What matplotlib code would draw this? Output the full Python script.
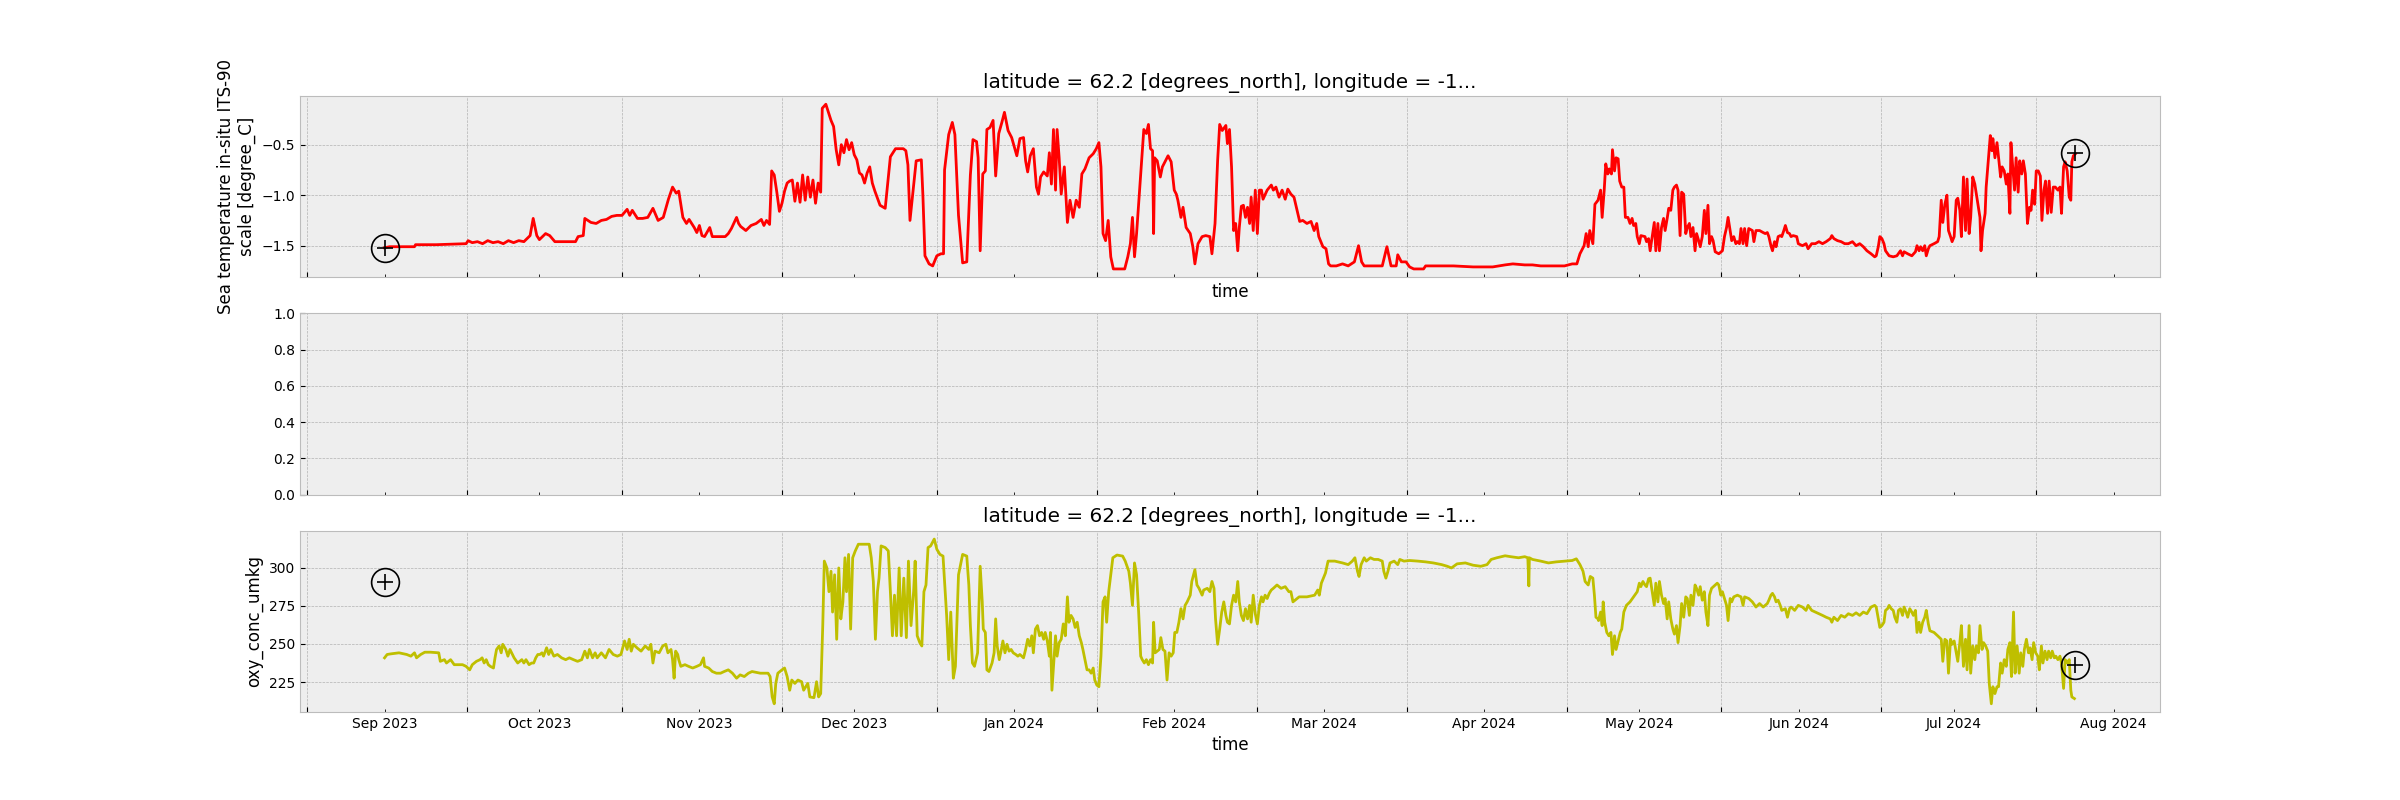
import numpy as np
import pandas as pd
import matplotlib
matplotlib.use('Agg')
import matplotlib.pyplot as plt
import matplotlib.dates as mdates
from matplotlib.ticker import NullFormatter, MultipleLocator

# time axis: days since 2023-09-01
start = pd.Timestamp('2023-09-01')

temp_day = [
    0, 1, 3, 5.8, 6, 10, 15.8, 16.2, 17, 18, 19, 20, 21, 22, 23, 24, 25, 26, 27, 28.2,
    28.8, 29.5, 30, 31.2, 32, 33, 35, 37, 37.5, 38.5, 38.8, 40, 41, 42, 43, 44, 45, 46, 47, 47.5,
    48, 49, 50, 51, 52, 53, 54, 55, 55.8, 56.5, 57, 57.8, 58.5, 59, 60, 60.5, 61, 61.5, 62, 63,
    63.5, 66, 66.6, 67.2, 68.2, 68.6, 69, 70, 71, 72, 73, 73.5, 74, 74.6, 75, 75.5, 76, 76.5, 77, 77.5,
    78, 78.5, 79, 79.5, 80, 80.5, 81, 81.5, 82, 82.5, 83, 83.5, 84, 84.5, 84.8, 85.5, 86, 86.5, 87, 87.5,
    88, 88.5, 89, 89.5, 90, 90.5, 91, 91.5, 92, 92.5, 93, 93.5, 94, 94.5, 95, 96, 97, 98, 99, 100.5,
    101, 101.4, 101.8, 102.3, 103, 104, 104.3, 104.7, 105.5, 106.2, 107, 107.8, 108.3, 108.5, 109.3, 110, 110.5, 111.2, 112, 112.8,
    113.5, 114, 114.7, 115, 115.4, 115.9, 116.4, 116.7, 117.3, 117.9, 118.4, 119.0, 119.6, 120.1, 120.8, 121.5, 122.5, 123.1, 123.8, 124.2,
    124.6, 125.1, 125.7, 126.3, 126.7, 127.1, 127.7, 128.4, 128.8, 129.2, 129.6, 130.0, 130.3, 130.7, 131.1, 131.7, 132.3, 132.8, 133.4, 134.0,
    134.6, 135.1, 135.7, 136.5, 137.3, 137.9, 138.4, 138.8, 139.2, 139.7, 140.2, 140.7, 141.2, 142.2, 143.4, 144.0, 144.5, 144.9, 145.3, 145.7,
    146.1, 146.5, 147.1, 147.6, 148.0, 148.4, 148.8, 149.0, 149.2, 149.7, 150.3, 150.7, 151.2, 151.8, 152.4, 153.0, 153.4, 153.7, 154.3, 154.7,
    155.3, 156.1, 156.6, 157.0, 157.6, 158.4, 159.1, 159.9, 160.3, 160.9, 161.4, 161.8, 162.3, 163.0, 163.3, 163.7, 164.1, 164.5, 164.9, 165.3,
    165.6, 166.0, 166.4, 166.8, 167.2, 167.6, 167.9, 168.3, 168.7, 169.1, 169.5, 169.9, 170.2, 171.0, 171.8, 172.2, 172.7, 173.3, 173.9, 174.5,
    175.0, 175.6, 176.2, 176.8, 177.3, 177.9, 178.7, 179.5, 180.1, 180.6, 181.0, 181.8, 182.4, 182.9, 183.3, 184.4, 185.6, 186.7, 187.9, 188.7,
    189.3, 189.8, 191.7, 193.3, 194.2, 195.0, 196.0, 196.3, 197.0, 197.9, 198.6, 199.4, 201.3, 201.7, 207.1, 210.9, 214.7, 217.1, 218.6, 220.9,
    222.4, 224.0, 228.6, 230.1, 231.0, 231.6, 232.4, 232.8, 233.2, 233.5, 234.1, 234.5, 235.1, 235.6, 235.9, 236.3, 236.6, 237.0, 237.3, 237.7,
    237.9, 238.3, 238.6, 239.0, 239.3, 239.7, 240.1, 240.4, 240.9, 241.3, 241.7, 242.0, 242.4, 242.7, 243.1, 243.4, 244.2, 244.5, 244.9, 245.2,
    245.6, 246.0, 246.3, 246.7, 247.0, 247.4, 247.8, 248.1, 248.5, 248.8, 249.2, 249.6, 249.9, 250.3, 250.6, 251.0, 251.3, 251.7, 252.1, 252.4,
    252.8, 253.1, 253.5, 253.9, 254.2, 254.6, 254.9, 255.3, 255.7, 256.0, 256.4, 256.7, 257.1, 257.4, 257.8, 258.5, 259.2, 259.6, 260.0, 260.3,
    260.7, 261.0, 261.4, 261.8, 262.1, 262.5, 262.8, 263.2, 263.5, 263.9, 264.3, 265.0, 265.3, 265.7, 266.4, 267.1, 267.5, 267.9, 268.2, 268.6,
    268.9, 269.3, 269.6, 270.0, 270.4, 270.7, 271.1, 271.4, 271.8, 272.2, 272.5, 272.9, 273.6, 273.9, 274.7, 275.4, 275.8, 276.5, 277.2, 277.9,
    278.6, 279.3, 280.1, 280.4, 280.8, 281.5, 282.2, 282.9, 283.6, 284.4, 285.1, 285.8, 286.5, 287.2, 288.0, 288.7, 289.0, 289.4, 289.7, 290.1,
    290.5, 290.8, 291.5, 292.3, 293.0, 293.7, 294.1, 294.4, 295.1, 295.9, 296.6, 296.9, 297.3, 297.6, 298.0, 298.4, 298.7, 299.1, 299.4, 300.2,
    300.9, 301.2, 301.6, 301.9, 302.3, 302.7, 303.0, 303.4, 303.7, 304.1, 304.5, 304.8, 305.2, 305.5, 305.9, 306.3, 306.6, 307.0, 307.3, 307.7,
    308.1, 308.4, 308.8, 309.1, 309.3, 309.6, 310.1, 310.3, 310.7, 311.1, 311.4, 311.6, 312.0, 312.4, 312.7, 313.1, 313.4, 313.8, 314.2, 314.5,
    314.9, 315.1, 315.4, 315.8, 316.1, 316.5, 316.8, 317.2, 317.5, 317.9, 318.3, 318.7, 319.0, 319.3, 319.7, 320.0, 320.4, 320.8, 321.1, 321.5,
    321.8, 322.2, 322.5, 322.9, 323.3, 323.7, 324.2, 324.6, 324.9, 325.3, 325.6, 326.0, 326.4, 326.7, 326.9, 327.2, 327.6,
]
temp_val = [
    -1.52, -1.51, -1.51, -1.51, -1.49, -1.49, -1.48, -1.45, -1.47, -1.46, -1.48, -1.45, -1.47, -1.46, -1.48, -1.45, -1.47, -1.45, -1.46, -1.40,
    -1.23, -1.40, -1.44, -1.38, -1.40, -1.46, -1.46, -1.46, -1.41, -1.40, -1.23, -1.27, -1.28, -1.25, -1.24, -1.21, -1.20, -1.20, -1.14, -1.20,
    -1.15, -1.23, -1.23, -1.22, -1.13, -1.25, -1.22, -1.04, -0.92, -0.98, -0.96, -1.22, -1.28, -1.24, -1.32, -1.37, -1.30, -1.40, -1.41, -1.32,
    -1.41, -1.41, -1.38, -1.33, -1.22, -1.28, -1.31, -1.35, -1.30, -1.28, -1.24, -1.30, -1.25, -1.29, -0.76, -0.80, -0.97, -1.16, -1.08, -0.96,
    -0.88, -0.86, -0.85, -1.06, -0.88, -1.07, -0.80, -1.05, -0.82, -1.02, -0.85, -1.08, -0.88, -0.97, -0.14, -0.10, -0.18, -0.26, -0.32, -0.55,
    -0.70, -0.50, -0.58, -0.45, -0.55, -0.48, -0.60, -0.65, -0.78, -0.80, -0.88, -0.78, -0.72, -0.88, -0.96, -1.10, -1.13, -0.62, -0.54, -0.54,
    -0.56, -0.70, -1.25, -1.00, -0.66, -0.65, -1.00, -1.60, -1.68, -1.70, -1.60, -1.58, -1.58, -0.75, -0.40, -0.28, -0.40, -1.20, -1.67, -1.66,
    -0.80, -0.45, -0.47, -0.63, -1.55, -0.79, -0.76, -0.35, -0.33, -0.26, -0.81, -0.39, -0.28, -0.18, -0.36, -0.43, -0.61, -0.44, -0.43, -0.66,
    -0.77, -0.61, -0.54, -0.92, -0.99, -0.82, -0.77, -0.81, -0.58, -0.89, -0.35, -0.95, -0.35, -0.63, -0.99, -0.72, -1.27, -1.05, -1.22, -1.05,
    -1.12, -0.79, -0.74, -0.63, -0.59, -0.54, -0.48, -0.72, -1.38, -1.45, -1.25, -1.61, -1.73, -1.73, -1.73, -1.61, -1.48, -1.22, -1.61, -1.38,
    -1.09, -0.79, -0.35, -0.39, -0.30, -0.54, -0.56, -1.38, -0.63, -0.66, -0.82, -0.72, -0.67, -0.61, -0.67, -0.95, -0.99, -1.05, -1.22, -1.12,
    -1.32, -1.38, -1.51, -1.68, -1.48, -1.41, -1.40, -1.41, -1.58, -1.28, -0.66, -0.30, -0.36, -0.31, -0.49, -0.35, -0.72, -1.35, -1.28, -1.55,
    -1.32, -1.11, -1.10, -1.22, -1.12, -1.28, -1.02, -1.35, -0.95, -1.38, -0.95, -0.95, -1.04, -0.95, -0.90, -0.95, -0.92, -1.02, -0.95, -1.04,
    -0.94, -0.99, -1.02, -1.15, -1.26, -1.25, -1.28, -1.26, -1.35, -1.28, -1.41, -1.51, -1.53, -1.68, -1.70, -1.70, -1.68, -1.70, -1.66, -1.50,
    -1.66, -1.70, -1.70, -1.70, -1.51, -1.70, -1.70, -1.59, -1.66, -1.66, -1.71, -1.73, -1.73, -1.70, -1.70, -1.71, -1.71, -1.69, -1.68, -1.69,
    -1.69, -1.70, -1.70, -1.68, -1.68, -1.58, -1.50, -1.38, -1.51, -1.35, -1.48, -1.09, -1.05, -0.95, -1.22, -0.95, -0.69, -0.79, -0.74, -0.79,
    -0.55, -0.76, -0.63, -0.64, -0.86, -0.92, -0.92, -1.22, -1.22, -1.28, -1.23, -1.30, -1.28, -1.41, -1.48, -1.40, -1.41, -1.46, -1.43, -1.55,
    -1.41, -1.27, -1.55, -1.28, -1.55, -1.32, -1.23, -1.35, -1.23, -1.13, -1.15, -0.95, -0.92, -0.90, -0.95, -1.40, -0.97, -0.99, -1.38, -1.32,
    -1.28, -1.41, -1.32, -1.55, -1.38, -1.45, -1.51, -1.41, -1.15, -1.38, -1.10, -1.48, -1.41, -1.45, -1.56, -1.58, -1.55, -1.41, -1.32, -1.22,
    -1.35, -1.45, -1.41, -1.48, -1.46, -1.48, -1.33, -1.48, -1.33, -1.50, -1.33, -1.35, -1.46, -1.35, -1.35, -1.37, -1.38, -1.37, -1.41, -1.50,
    -1.55, -1.46, -1.51, -1.41, -1.40, -1.41, -1.35, -1.30, -1.37, -1.38, -1.41, -1.40, -1.41, -1.48, -1.50, -1.48, -1.53, -1.48, -1.48, -1.46,
    -1.48, -1.46, -1.43, -1.40, -1.43, -1.45, -1.46, -1.48, -1.48, -1.46, -1.50, -1.48, -1.51, -1.55, -1.58, -1.61, -1.60, -1.51, -1.41, -1.43,
    -1.48, -1.55, -1.60, -1.61, -1.60, -1.55, -1.60, -1.56, -1.58, -1.60, -1.56, -1.50, -1.55, -1.51, -1.55, -1.50, -1.60, -1.53, -1.50, -1.48,
    -1.46, -1.41, -1.05, -1.27, -1.09, -1.00, -1.35, -1.41, -1.46, -1.41, -1.05, -1.03, -1.15, -1.41, -0.82, -1.35, -0.84, -1.38, -1.22, -0.82,
    -0.89, -0.99, -1.12, -1.22, -1.55, -1.35, -1.18, -0.92, -0.66, -0.41, -0.56, -0.44, -0.63, -0.48, -0.63, -0.82, -0.72, -0.76, -0.89, -0.79,
    -1.18, -0.48, -0.69, -0.95, -0.63, -0.97, -0.66, -0.79, -0.66, -0.79, -1.28, -1.12, -1.15, -0.95, -1.09, -0.76, -0.76, -0.81, -1.25, -0.95,
    -0.86, -1.18, -0.86, -1.17, -0.92, -0.92, -0.95, -0.92, -1.18, -0.72, -0.67, -0.76, -1.02, -1.05, -0.67, -0.61, -0.59,
]

oxy_day = [
    0, 0.5, 1.2, 2.8, 4.3, 5.1, 5.8, 6.2, 7.0, 7.8, 8.9, 10.5, 10.8, 11.6, 12.0, 12.8, 13.5, 15.1, 15.8, 16.5,
    17.0, 17.8, 18.5, 18.9, 19.3, 19.7, 20.1, 20.5, 21.1, 21.4, 21.7, 22.2, 22.6, 22.9, 23.5, 23.9, 24.3, 25.1, 25.8, 26.6,
    27.0, 27.4, 28.0, 28.5, 28.9, 29.3, 29.7, 30.1, 30.5, 30.8, 31.4, 31.8, 32.2, 32.8, 33.5, 34.3, 35.1, 35.8, 36.6, 37.4,
    38.2, 38.8, 39.3, 39.7, 40.3, 40.8, 41.2, 42.0, 42.8, 43.5, 44.3, 45.1, 45.8, 46.5, 47.0, 47.4, 47.8, 48.2, 48.9, 49.7,
    50.5, 51.2, 51.6, 52.0, 52.4, 53.2, 53.9, 54.5, 54.9, 55.5, 55.8, 56.1, 56.4, 56.8, 57.0, 57.4, 58.2, 58.9, 59.7, 60.5,
    61.2, 61.8, 62.0, 62.8, 63.5, 64.3, 65.1, 65.8, 66.6, 67.4, 68.2, 68.9, 69.7, 70.5, 71.2, 72.8, 74.3, 74.7, 75.1, 75.5,
    75.8, 76.2, 77.0, 77.5, 78.0, 78.5, 78.9, 79.5, 80.1, 80.8, 81.2, 82.0, 82.4, 83.2, 83.7, 84.1, 84.5, 84.9, 85.2, 85.7,
    86.1, 86.5, 86.8, 87.2, 87.6, 88.0, 88.4, 88.8, 89.2, 89.5, 89.9, 90.3, 90.7, 91.2, 91.8, 92.8, 93.9, 94.3, 94.7, 95.1,
    95.5, 95.8, 96.2, 97.0, 97.6, 98.0, 98.4, 98.8, 99.2, 99.7, 100.1, 100.6, 101.1, 101.5, 102.0, 102.5, 102.8, 103.2, 103.7, 104.1,
    104.5, 104.9, 105.3, 105.8, 106.5, 107.0, 107.6, 108.2, 108.9, 109.3, 109.7, 110.2, 110.6, 111.2, 112.0, 112.8, 113.2, 113.5, 113.9, 114.3,
    114.9, 115.4, 115.8, 116.0, 116.4, 116.7, 117.1, 117.7, 118.1, 118.4, 118.7, 119.1, 119.5, 119.8, 120.2, 120.6, 121.0, 121.4, 121.8, 122.3,
    122.7, 123.1, 123.8, 124.2, 124.6, 125.0, 125.4, 125.7, 126.1, 126.5, 126.9, 127.3, 127.7, 128.0, 128.4, 128.8, 129.0, 129.3, 129.6, 130.0,
    130.3, 130.7, 131.1, 131.5, 131.9, 132.3, 132.6, 133.0, 133.4, 133.8, 134.2, 134.6, 135.0, 135.3, 135.7, 136.1, 136.5, 136.9, 137.3, 137.6,
    138.0, 138.4, 138.8, 139.2, 139.6, 139.9, 140.3, 140.7, 141.1, 141.9, 143.0, 143.5, 144.2, 144.5, 144.9, 145.3, 145.7, 146.1, 146.5, 146.8,
    147.2, 147.6, 148.0, 148.4, 148.8, 149.0, 149.3, 149.7, 150.1, 150.4, 150.8, 151.2, 151.6, 152.0, 152.4, 152.8, 153.1, 153.5, 153.9, 154.3,
    154.7, 155.1, 155.5, 156.1, 156.4, 157.0, 157.4, 157.8, 158.4, 158.7, 159.4, 159.9, 160.3, 160.7, 161.0, 161.4, 161.8, 162.2, 162.6, 163.0,
    163.3, 163.7, 164.1, 164.5, 164.9, 165.3, 165.6, 166.0, 166.4, 166.8, 167.2, 167.6, 167.9, 168.3, 168.7, 169.1, 169.5, 169.9, 170.2, 170.6,
    171.0, 171.4, 171.8, 172.2, 172.9, 173.7, 174.5, 175.2, 175.6, 176.0, 177.2, 178.7, 180.2, 180.8, 181.1, 181.5, 181.9, 182.3, 182.8, 184.1,
    185.6, 186.7, 187.5, 188.0, 188.5, 188.8, 189.2, 189.8, 190.2, 191.0, 191.7, 192.5, 193.3, 193.6, 194.0, 194.4, 194.8, 195.6, 196.3, 196.7,
    197.5, 198.6, 200.2, 201.7, 203.2, 204.8, 205.9, 206.7, 207.8, 209.4, 210.9, 212.4, 213.6, 214.4, 215.5, 217.1, 218.2, 219.7, 220.9, 221.5,
    221.7, 221.8, 222.4, 224.0, 225.5, 227.0, 228.6, 230.1, 230.9, 231.6, 232.2, 232.6, 233.2, 233.6, 234.1, 234.4, 234.7, 235.1, 235.2, 235.6,
    235.9, 236.1, 236.4, 236.8, 237.2, 237.6, 237.9, 238.3, 238.6, 239.0, 239.4, 239.7, 240.1, 240.6, 241.3, 242.0, 242.7, 243.1, 243.4, 243.8,
    244.2, 244.5, 244.9, 245.2, 245.6, 246.0, 246.3, 246.7, 247.0, 247.4, 247.8, 248.1, 248.5, 248.8, 249.2, 249.6, 249.9, 250.3, 250.6, 251.0,
    251.3, 251.7, 252.1, 252.4, 252.8, 253.1, 253.5, 253.9, 254.2, 254.6, 254.9, 255.3, 255.7, 256.0, 256.4, 256.7, 257.1, 257.8, 258.2, 258.5,
    258.9, 259.2, 259.6, 260.0, 260.3, 260.7, 261.0, 261.4, 262.1, 262.8, 263.2, 263.5, 264.3, 265.0, 265.7, 266.4, 267.1, 267.9, 268.2, 268.6,
    268.9, 269.3, 269.6, 270.0, 270.4, 270.7, 271.4, 271.8, 272.2, 272.5, 273.2, 273.9, 274.7, 275.4, 275.8, 276.5, 277.2, 277.9, 278.6, 279.3,
    280.1, 280.4, 280.8, 281.5, 282.2, 282.9, 283.6, 284.4, 285.1, 285.8, 286.5, 287.2, 288.0, 288.7, 289.0, 289.4, 289.7, 290.1, 290.5, 290.8,
    291.2, 291.5, 291.9, 292.3, 292.6, 293.0, 293.3, 293.7, 294.1, 294.4, 294.8, 295.1, 295.5, 295.9, 296.2, 296.6, 296.9, 297.3, 297.6, 298.0,
    298.4, 298.7, 299.1, 299.4, 300.2, 300.9, 301.6, 301.9, 302.3, 302.7, 303.0, 303.4, 303.7, 304.1, 304.5, 304.8, 305.2, 305.5, 305.9, 306.3,
    306.6, 307.0, 307.3, 307.7, 308.1, 308.4, 308.8, 309.1, 309.5, 309.8, 310.2, 310.6, 310.9, 311.3, 311.6, 312.0, 312.4, 312.7, 313.1, 313.4,
    313.8, 314.2, 314.5, 314.9, 315.2, 315.6, 315.9, 316.3, 316.7, 317.0, 317.4, 317.7, 318.1, 318.5, 318.8, 319.2, 319.5, 319.9, 320.3, 320.6,
    321.0, 321.3, 321.7, 322.1, 322.4, 322.8, 323.1, 323.5, 323.8, 324.2, 324.6, 324.9, 325.3, 325.6, 326.0, 326.4, 326.7, 326.9, 327.4,
]
oxy_val = [
    240.9, 243.1, 243.5, 244.2, 243.1, 242.0, 244.2, 240.9, 243.1, 244.6, 244.6, 244.2, 238.6, 239.7, 237.5, 239.7, 236.4, 236.4, 235.3, 233.0,
    236.4, 238.6, 239.7, 240.9, 237.5, 239.7, 236.4, 235.3, 234.2, 240.9, 246.4, 248.7, 244.2, 249.8, 246.4, 242.0, 246.4, 240.9, 237.5, 239.7,
    237.5, 239.7, 236.4, 237.5, 237.5, 240.9, 243.1, 243.1, 244.2, 242.0, 247.5, 243.1, 246.4, 242.0, 243.1, 240.9, 239.7, 240.9, 239.7, 238.6,
    239.7, 245.3, 240.9, 246.4, 240.9, 244.2, 240.9, 244.2, 240.9, 246.4, 243.1, 242.0, 243.1, 252.0, 246.4, 253.1, 245.3, 249.8, 247.5, 245.3,
    248.7, 246.4, 249.8, 237.5, 245.3, 244.2, 248.7, 249.8, 244.2, 246.4, 239.7, 227.5, 245.3, 243.1, 239.7, 235.3, 236.4, 235.3, 234.2, 235.3,
    236.4, 240.9, 235.3, 234.2, 231.9, 230.8, 230.8, 231.9, 233.0, 230.8, 227.5, 229.7, 228.6, 230.8, 231.9, 230.8, 230.8, 228.6, 215.2, 210.7,
    224.1, 230.8, 233.0, 234.2, 228.6, 219.6, 226.3, 224.1, 226.3, 225.2, 219.6, 224.1, 215.2, 214.7, 225.2, 215.2, 217.4, 262.1, 304.5, 300.0,
    284.4, 297.8, 271.0, 295.5, 253.1, 300.0, 266.5, 277.7, 306.7, 284.4, 308.9, 259.8, 306.7, 311.2, 315.6, 315.6, 315.6, 306.7, 291.1, 253.1,
    284.4, 293.3, 314.5, 313.4, 311.2, 284.4, 255.4, 282.1, 255.4, 300.0, 255.4, 293.3, 254.2, 304.5, 262.1, 284.4, 304.5, 255.4, 250.9, 248.7,
    284.4, 288.8, 313.4, 314.5, 319.0, 312.3, 308.9, 307.8, 268.8, 239.7, 271.0, 227.5, 235.3, 295.5, 308.9, 307.8, 288.8, 262.1, 237.5, 235.3,
    244.2, 301.1, 277.7, 259.8, 257.6, 233.0, 231.9, 237.5, 244.2, 266.5, 248.7, 239.7, 246.4, 252.0, 244.2, 249.8, 245.3, 246.4, 244.2, 243.1,
    242.0, 243.1, 240.9, 246.4, 253.1, 248.7, 255.4, 244.2, 259.8, 262.1, 255.4, 257.6, 253.1, 257.6, 252.0, 242.0, 257.6, 219.6, 235.3, 255.4,
    242.0, 250.9, 253.1, 263.2, 255.4, 281.0, 264.3, 268.8, 266.5, 260.9, 264.3, 255.4, 250.9, 246.4, 239.7, 233.0, 233.0, 230.8, 234.2, 226.3,
    223.0, 221.9, 242.0, 277.7, 281.0, 264.3, 284.4, 295.5, 306.7, 308.5, 307.8, 304.5, 297.8, 290.0, 275.4, 303.3, 295.5, 271.0, 242.0, 239.7,
    237.5, 239.7, 236.4, 239.7, 237.5, 264.3, 244.2, 245.3, 246.4, 254.2, 246.4, 245.3, 226.3, 244.2, 242.0, 244.2, 257.6, 257.6, 264.3, 273.2,
    266.5, 275.4, 277.7, 282.1, 291.1, 298.9, 288.8, 286.6, 282.1, 285.5, 286.6, 284.4, 291.1, 286.6, 266.5, 249.8, 259.8, 271.0, 277.7, 268.8,
    264.3, 263.2, 275.4, 282.1, 277.7, 291.1, 277.7, 268.8, 265.4, 273.2, 266.5, 275.4, 264.3, 282.1, 269.9, 263.2, 275.4, 281.0, 277.7, 282.1,
    279.9, 283.3, 285.5, 286.6, 288.8, 286.6, 287.7, 284.4, 284.4, 277.7, 281.0, 281.0, 282.1, 285.5, 282.1, 290.0, 293.3, 296.7, 304.5, 304.5,
    303.3, 302.2, 304.5, 306.7, 297.8, 294.4, 302.2, 306.7, 304.5, 306.7, 305.6, 305.6, 304.5, 297.8, 293.3, 297.8, 303.3, 304.5, 302.2, 305.6,
    304.5, 304.9, 304.5, 304.0, 303.3, 302.2, 301.1, 300.0, 302.7, 303.3, 301.8, 301.1, 302.2, 305.6, 306.7, 308.0, 307.4, 306.7, 307.4, 306.7,
    288.2, 306.7, 305.6, 304.5, 303.3, 304.0, 304.5, 304.9, 306.0, 302.2, 297.8, 291.1, 288.8, 294.4, 293.3, 282.1, 267.6, 266.5, 265.4, 271.0,
    262.1, 277.7, 264.3, 257.6, 255.4, 257.6, 243.1, 255.4, 246.4, 252.0, 257.6, 259.8, 271.0, 275.4, 277.7, 281.0, 284.4, 290.0, 287.7, 291.1,
    288.8, 287.7, 292.9, 293.3, 284.4, 275.4, 290.0, 277.7, 291.1, 282.1, 276.6, 279.9, 266.5, 277.7, 266.5, 259.8, 256.5, 262.1, 250.9, 262.1,
    276.6, 267.6, 281.0, 279.9, 268.8, 282.1, 275.4, 288.8, 286.6, 282.1, 287.7, 278.8, 284.4, 271.0, 262.1, 282.1, 286.6, 288.8, 290.0, 288.8,
    282.1, 284.4, 279.9, 275.4, 265.4, 279.9, 277.7, 281.0, 282.1, 281.0, 275.4, 281.0, 279.9, 277.7, 274.3, 276.6, 274.3, 276.6, 278.8, 282.1,
    283.3, 281.0, 277.7, 278.8, 275.4, 272.1, 273.2, 267.6, 273.2, 274.3, 272.1, 275.4, 274.3, 272.1, 275.4, 272.1, 271.0, 269.9, 268.8, 267.6,
    266.5, 264.3, 267.6, 265.4, 268.8, 267.6, 269.9, 268.8, 270.5, 268.8, 271.0, 269.9, 274.3, 275.4, 274.3, 266.5, 260.9, 262.1, 264.3, 272.1,
    273.2, 275.4, 273.2, 272.1, 267.6, 264.3, 272.1, 273.2, 268.8, 274.3, 271.0, 267.6, 273.2, 271.0, 268.8, 272.1, 257.6, 264.3, 257.6, 264.3,
    267.6, 272.1, 263.2, 258.7, 257.6, 255.4, 253.1, 238.6, 253.1, 252.0, 230.8, 253.1, 249.8, 252.0, 244.2, 238.6, 250.9, 262.1, 235.3, 253.1,
    233.0, 262.1, 230.8, 248.7, 239.7, 248.7, 244.2, 262.1, 246.4, 250.9, 248.7, 245.3, 224.1, 210.7, 221.9, 217.4, 221.9, 221.9, 237.5, 230.8,
    239.7, 235.3, 246.4, 250.9, 228.6, 271.0, 230.8, 248.7, 230.8, 244.2, 235.3, 246.4, 253.1, 244.2, 247.5, 239.7, 250.9, 244.2, 242.0, 233.0,
    248.7, 237.5, 245.3, 239.7, 245.3, 240.9, 245.3, 240.9, 242.0, 239.7, 242.0, 237.5, 220.8, 239.7, 237.5, 239.7, 219.6, 215.2, 214.1,
]

# start / end markers
mark_day = [0, 327.6]
temp_mark = [-1.52, -0.58]
oxy_mark = [291.0, 236.4]

title = 'latitude = 62.2 [degrees_north], longitude = -1...'


def to_time(days):
    return start + pd.to_timedelta(np.asarray(days, dtype=float), unit='D')


plt.style.use('bmh')
fig, axes = plt.subplots(3, 1, figsize=(24, 8), sharex=True)
ax_t, ax_m, ax_o = axes

# temperature
ax_t.plot(to_time(temp_day), temp_val, color='r')
ax_t.plot(to_time(mark_day), temp_mark, 'o', ms=20, mfc='none', mec='k', mew=1.2)
ax_t.plot(to_time(mark_day), temp_mark, '+', ms=12, color='k', mew=1.2)
ax_t.set_title(title)
ax_t.set_xlabel('time')
ax_t.set_ylabel('Sea temperature in-situ ITS-90\nscale [degree_C]')

# oxygen
ax_o.plot(to_time(oxy_day), oxy_val, color='y')
ax_o.plot(to_time(mark_day), oxy_mark, 'o', ms=20, mfc='none', mec='k', mew=1.2)
ax_o.plot(to_time(mark_day), oxy_mark, '+', ms=12, color='k', mew=1.2)
ax_o.set_title(title)
ax_o.set_xlabel('time')
ax_o.set_ylabel('oxy_conc_umkg')
ax_o.yaxis.set_major_locator(MultipleLocator(25))

# month labels on minor ticks, grid on mid-month major ticks
ax_o.xaxis.set_major_locator(mdates.MonthLocator(bymonthday=17))
ax_o.xaxis.set_major_formatter(NullFormatter())
ax_o.xaxis.set_minor_locator(mdates.MonthLocator())
ax_o.xaxis.set_minor_formatter(mdates.DateFormatter('%b %Y'))
for ax in (ax_t, ax_m):
    ax.tick_params(axis='x', which='both', labelbottom=False)

fig.savefig('out.png', dpi=100)
